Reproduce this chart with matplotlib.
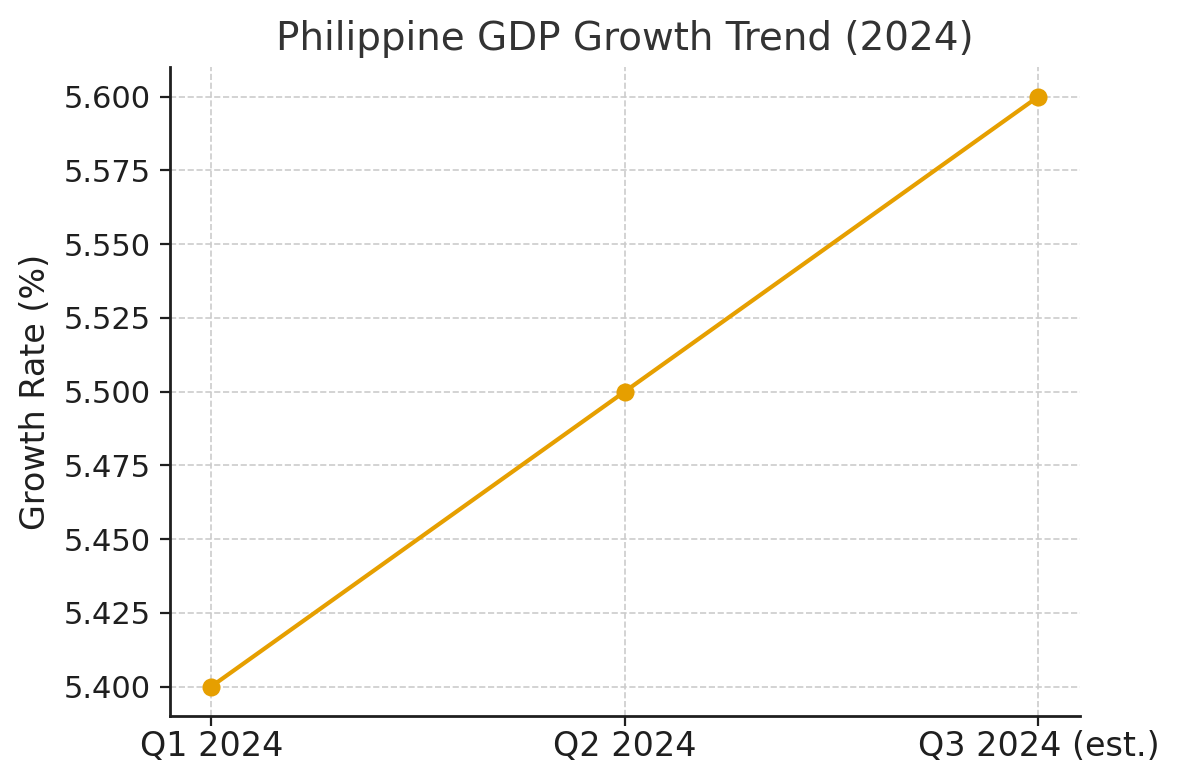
import matplotlib
matplotlib.use("Agg")
import matplotlib.pyplot as plt

# data
quarters = ["Q1 2024", "Q2 2024", "Q3 2024 (est.)"]
growth = [5.4, 5.5, 5.6]

plt.rcParams['font.family'] = ['DejaVu Sans']
plt.rcParams['text.color'] = '#333333'

fig = plt.figure(figsize=(5.9, 3.9), dpi=200)
ax = fig.add_axes([0.144, 0.082, 0.771, 0.832])

ax.plot(quarters, growth, marker='o', color='#E69F00', linewidth=1.5, markersize=5.5)

ax.set_title("Philippine GDP Growth Trend (2024)", fontsize=14, color='#333333')
ax.set_ylabel("Growth Rate (%)", fontsize=12, color='#1f1f1f')
ax.yaxis.set_major_formatter(matplotlib.ticker.FormatStrFormatter('%.3f'))
ax.tick_params(axis='y', labelsize=11, colors='#1f1f1f')
ax.tick_params(axis='x', labelsize=12, colors='#1f1f1f', pad=1.5)
ax.grid(True, linestyle='--', color='#cccccc', linewidth=0.6)
ax.set_axisbelow(True)
for s in ['top', 'right']:
    ax.spines[s].set_visible(False)
for s in ['left', 'bottom']:
    ax.spines[s].set_color('#1f1f1f')
    ax.spines[s].set_linewidth(1.0)

fig.savefig("out.png", dpi=200)
